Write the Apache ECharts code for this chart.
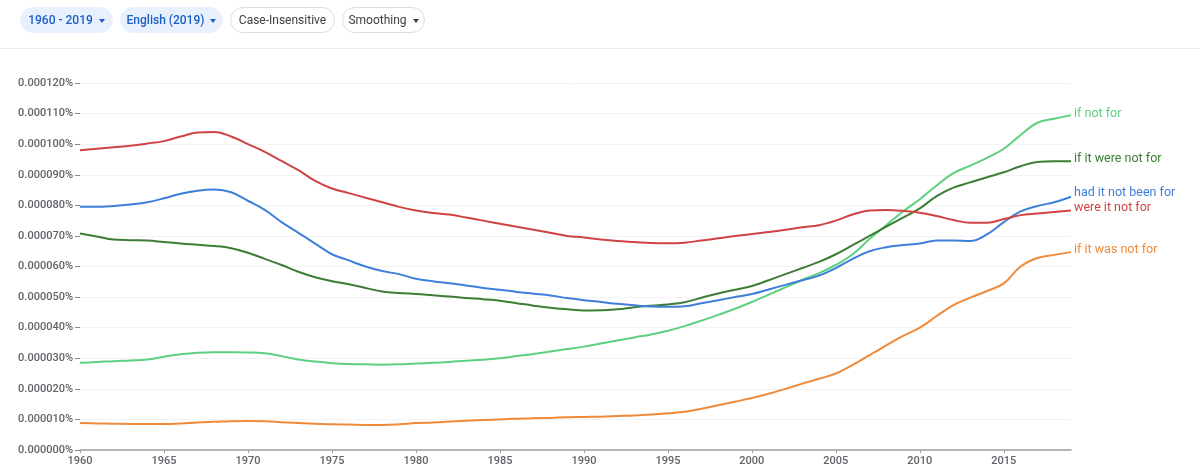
<!DOCTYPE html>
<html lang="en">
  <head>
    <meta charset="UTF-8" />
    <title>ngram</title>
    <style>
      body {
        margin: 0;
        width: 1200px;
        height: 475px;
        overflow: hidden;
        background: #fff;
        font-family: Roboto, "Noto Sans", sans-serif;
      }
      .bar {
        position: absolute;
        left: 0;
        top: 0;
        width: 1200px;
        height: 48px;
        border-bottom: 1px solid #ececec;
        z-index: 2;
      }
      .chip {
        position: absolute;
        top: 7px;
        height: 26px;
        box-sizing: border-box;
        border-radius: 13px;
        font-size: 12px;
        line-height: 24px;
        text-align: center;
        white-space: nowrap;
      }
      .chip.on {
        background: #e8f0fe;
        color: #1a5fc8;
        font-weight: 500;
        border: 1px solid #e8f0fe;
      }
      .chip.off {
        background: #fff;
        color: #3c4043;
        border: 1px solid #dadce0;
      }
      .caret {
        display: inline-block;
        width: 0;
        height: 0;
        border-left: 3.5px solid transparent;
        border-right: 3.5px solid transparent;
        border-top: 4px solid currentColor;
        margin-left: 6px;
        vertical-align: middle;
      }
      #chart {
        position: absolute;
        left: 0;
        top: 0;
        width: 1200px;
        height: 475px;
      }
    </style>
  </head>
  <body>
    <div id="chart"></div>
    <div class="bar">
      <div class="chip on" style="left: 20px; width: 93px">1960 - 2019<span class="caret"></span></div>
      <div class="chip on" style="left: 120px; width: 103px">English (2019)<span class="caret"></span></div>
      <div class="chip off" style="left: 230px; width: 105px">Case-Insensitive</div>
      <div class="chip off" style="left: 342px; width: 83px">Smoothing<span class="caret"></span></div>
    </div>
    <script src="https://cdn.jsdelivr.net/npm/echarts@6/dist/echarts.min.js"></script>
    <script>
      // years 1960..2019, values in units of 0.000001 %
      const years = [];
      for (let y = 1960; y <= 2019; y++) years.push(y);

      const ifNotFor = [
        28.5, 28.8, 29, 29.3, 29.6, 30.5, 31.3, 31.8, 32, 32,
        31.9, 31.6, 30.7, 29.6, 28.9, 28.4, 28.1, 28, 27.9, 28,
        28.3, 28.5, 28.8, 29.2, 29.5, 30, 30.7, 31.4, 32.2, 33,
        33.8, 34.8, 35.8, 36.8, 37.8, 39, 40.5, 42.3, 44.2, 46.2,
        48.4, 50.8, 53.2, 55.6, 57.8, 60.5, 64, 69, 73.5, 78,
        82, 86.5, 90.5, 93, 95.5, 98.5, 103, 107, 108.3, 109.5
      ];
      const ifItWereNotFor = [
        70.8, 69.8, 68.8, 68.6, 68.5, 68, 67.5, 67.1, 66.7, 66,
        64.5, 62.5, 60.5, 58.3, 56.5, 55.2, 54.2, 53, 51.8, 51.3,
        51, 50.6, 50.2, 49.7, 49.3, 48.8, 48, 47.2, 46.5, 46,
        45.6, 45.7, 46, 46.7, 47.2, 47.6, 48.3, 49.8, 51.2, 52.4,
        53.6, 55.5, 57.5, 59.5, 61.5, 64, 67, 70, 73, 76,
        79, 83, 85.8, 87.5, 89.2, 90.8, 92.8, 94.2, 94.4, 94.4
      ];
      const hadItNotBeenFor = [
        79.5, 79.5, 79.8, 80.3, 81, 82.3, 83.8, 84.8, 85.2, 84.3,
        81.5, 78.5, 74.5, 71, 67.5, 64, 62, 60, 58.5, 57.5,
        56, 55.2, 54.5, 53.8, 53, 52.4, 51.7, 51.1, 50.5, 49.7,
        49, 48.4, 47.8, 47.3, 46.9, 46.8, 47, 48, 49, 50,
        51, 52.5, 54, 55.5, 57, 59.5, 62.5, 65, 66.3, 67,
        67.5, 68.5, 68.5, 68.3, 70.5, 74.5, 78, 79.8, 81, 82.8
      ];
      const wereItNotFor = [
        98, 98.5, 99, 99.5, 100.2, 101, 102.5, 103.8, 104, 102.5,
        100, 97.5, 94.5, 91.5, 88, 85.5, 84, 82.5, 81, 79.5,
        78.3, 77.5, 77, 76, 75, 74, 73, 72, 71, 70,
        69.5, 68.8, 68.3, 68, 67.7, 67.6, 67.8, 68.5, 69.2, 70,
        70.6, 71.3, 72, 72.8, 73.5, 75, 77, 78.3, 78.5, 78.2,
        77.6, 76.5, 75.2, 74.3, 74.3, 75.5, 76.8, 77.3, 77.8, 78.3
      ];
      const ifItWasNotFor = [
        8.8, 8.7, 8.6, 8.5, 8.5, 8.5, 8.7, 9, 9.2, 9.4,
        9.5, 9.4, 9.1, 8.8, 8.6, 8.4, 8.3, 8.2, 8.2, 8.4,
        8.8, 9, 9.3, 9.6, 9.8, 10, 10.2, 10.4, 10.5, 10.7,
        10.8, 10.9, 11.1, 11.3, 11.6, 12, 12.5, 13.5, 14.6, 15.8,
        17, 18.4, 20, 21.7, 23.3, 25, 27.8, 31, 34.2, 37.3,
        40, 43.8, 47.4, 49.8, 52, 54.5, 60, 62.8, 63.8, 64.7
      ];

      const names = ["if not for", "if it were not for", "had it not been for", "were it not for", "if it was not for"];
      const values = [ifNotFor, ifItWereNotFor, hadItNotBeenFor, wereItNotFor, ifItWasNotFor];
      const colors = ["#5dcf80", "#3d7d35", "#3e7fd9", "#d14343", "#ef8a3a"];
      const labelOffsets = [[0, -1], [0, -2], [0, -4], [0, -3], [0, -2]];

      const chart = echarts.init(document.getElementById("chart"));

      const series = names.map((name, i) => ({
        name: name,
        type: "line",
        data: years.map((y, j) => [y, values[i][j]]),
        smooth: 0.4,
        showSymbol: false,
        lineStyle: { color: colors[i], width: 2 },
        itemStyle: { color: colors[i] },
        endLabel: {
          show: true,
          formatter: "{a}",
          color: colors[i],
          fontSize: 12.5,
          fontFamily: "Roboto",
          distance: 3,
          offset: labelOffsets[i],
        },
      }));

      chart.setOption({
        animation: false,
        grid: { left: 80, right: 129, top: 83, bottom: 25 },
        xAxis: {
          type: "value",
          min: 1960,
          max: 2019,
          interval: 5,
          axisLine: { lineStyle: { color: "#a0a0a0", width: 1.5 } },
          axisTick: { length: 3, lineStyle: { color: "#a0a0a0" } },
          axisLabel: {
            color: "#5f6368",
            fontSize: 11,
            fontWeight: 500,
            fontFamily: "Roboto",
            margin: 6,
            showMaxLabel: false,
            formatter: (v) => String(v),
          },
          splitLine: { show: false },
        },
        yAxis: {
          type: "value",
          min: 0,
          max: 120,
          interval: 10,
          axisLine: { show: false },
          axisTick: { show: true, length: 5, lineStyle: { color: "#8a8a8a" } },
          axisLabel: {
            color: "#5f6368",
            fontSize: 11,
            fontWeight: 500,
            fontFamily: "Roboto",
            margin: 7,
            formatter: (v) => (v * 1e-6).toFixed(6) + "%",
          },
          splitLine: { lineStyle: { color: "#f3f3f3" } },
        },
        series: series,
      });
    </script>
  </body>
</html>
